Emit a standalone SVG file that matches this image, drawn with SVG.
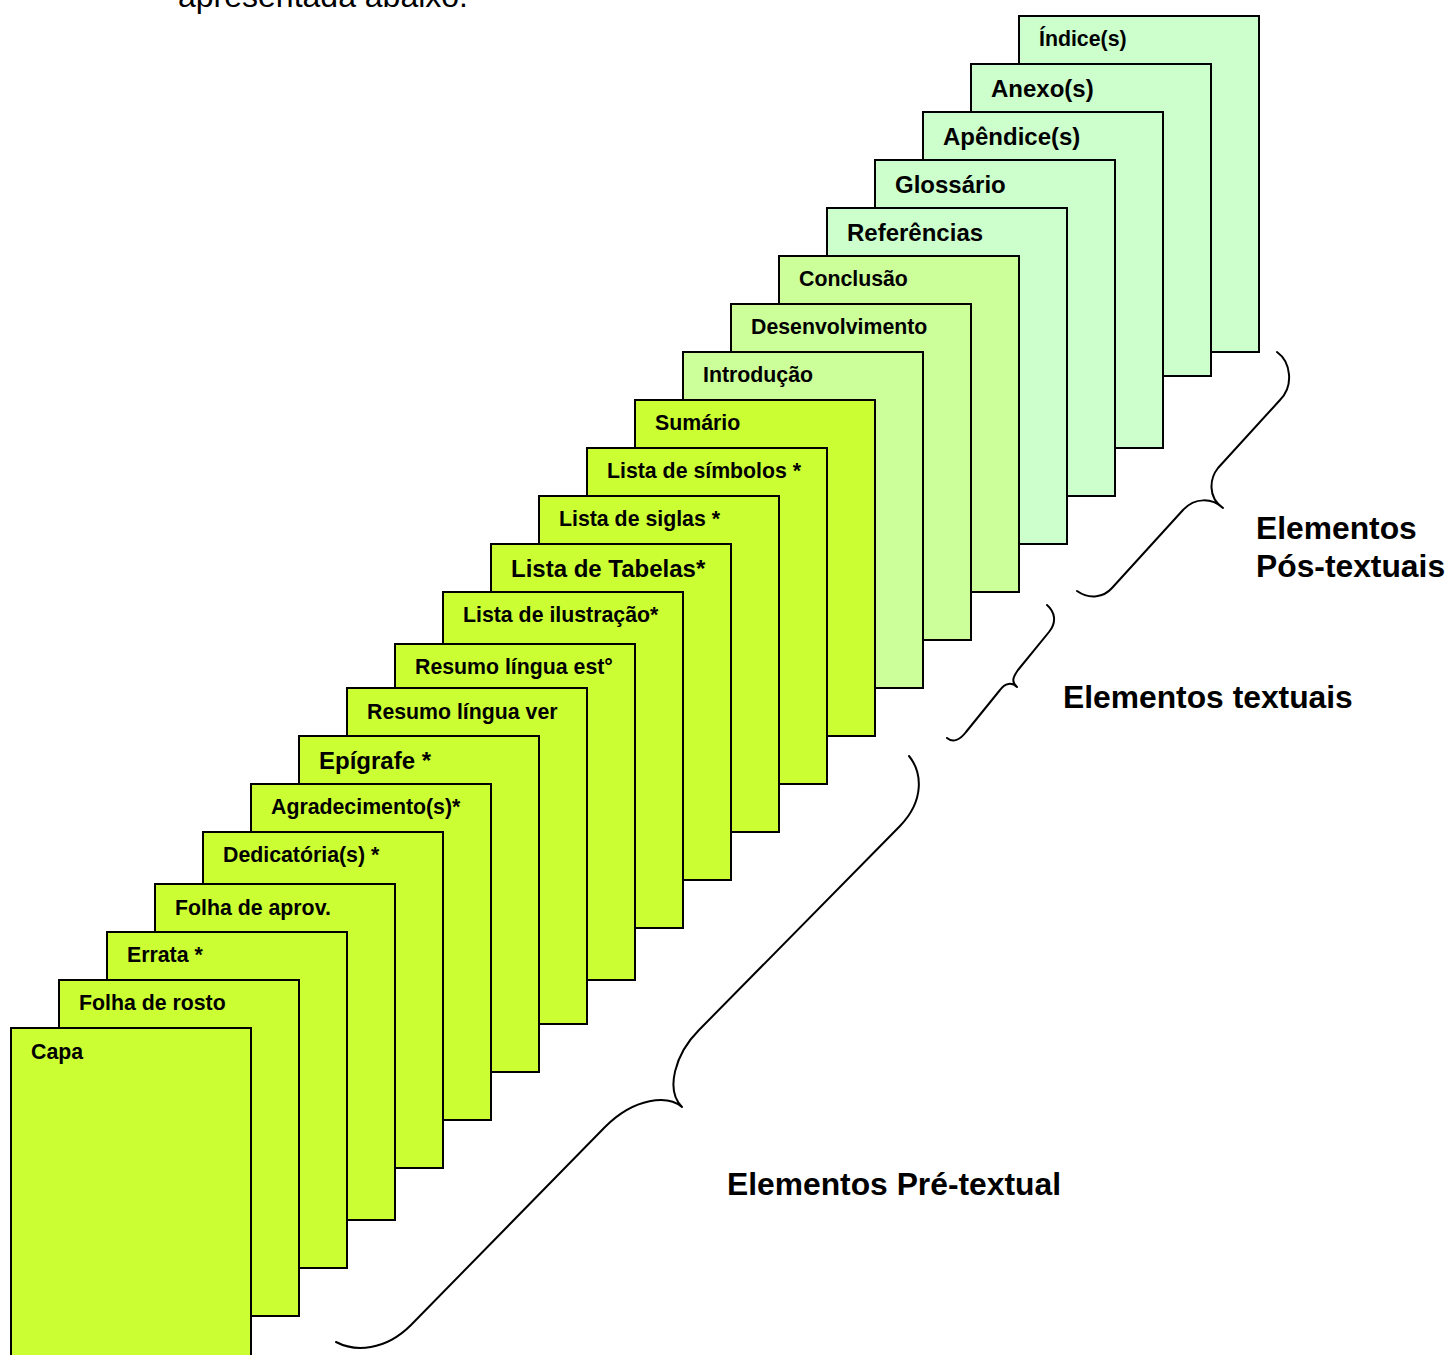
<svg xmlns="http://www.w3.org/2000/svg" width="1450" height="1355" viewBox="0 0 1450 1355">
<style>
.pg{stroke:#000;stroke-width:2}
.pre{fill:#CCFF33}
.txt{fill:#CCFF99}
.pos{fill:#CCFFCC}
.l{font-family:"Liberation Sans",Arial,sans-serif;font-weight:bold;font-size:21.3px;fill:#000}
.b{font-size:24px}
.cap{font-family:"Liberation Sans",Arial,sans-serif;font-weight:bold;font-size:31.8px;fill:#000}
.brace{fill:none;stroke:#000;stroke-width:2;stroke-linecap:round;stroke-linejoin:round}
</style>
<rect width="1450" height="1355" fill="#fff"/>
<text x="178" y="7" font-family="'Liberation Sans',Arial,sans-serif" font-size="32" fill="#000">apresentada abaixo.</text>
<g id="indice"><rect class="pg pos" x="1019" y="16" width="240" height="336"/><text class="l" x="1039" y="46">Índice(s)</text></g>
<g id="anexo"><rect class="pg pos" x="971" y="64" width="240" height="312"/><text class="l b" x="991" y="97">Anexo(s)</text></g>
<g id="apendice"><rect class="pg pos" x="923" y="112" width="240" height="336"/><text class="l b" x="943" y="145">Apêndice(s)</text></g>
<g id="glossario"><rect class="pg pos" x="875" y="160" width="240" height="336"/><text class="l b" x="895" y="193">Glossário</text></g>
<g id="referencias"><rect class="pg pos" x="827" y="208" width="240" height="336"/><text class="l b" x="847" y="241">Referências</text></g>
<g id="conclusao"><rect class="pg txt" x="779" y="256" width="240" height="336"/><text class="l" x="799" y="286">Conclusão</text></g>
<g id="desenvolvimento"><rect class="pg txt" x="731" y="304" width="240" height="336"/><text class="l" x="751" y="334">Desenvolvimento</text></g>
<g id="introducao"><rect class="pg txt" x="683" y="352" width="240" height="336"/><text class="l" x="703" y="382">Introdução</text></g>
<g id="sumario"><rect class="pg pre" x="635" y="400" width="240" height="336"/><text class="l" x="655" y="430">Sumário</text></g>
<g id="simbolos"><rect class="pg pre" x="587" y="448" width="240" height="336"/><text class="l" x="607" y="478">Lista de símbolos *</text></g>
<g id="siglas"><rect class="pg pre" x="539" y="496" width="240" height="336"/><text class="l" x="559" y="526">Lista de siglas *</text></g>
<g id="tabelas"><rect class="pg pre" x="491" y="544" width="240" height="336"/><text class="l b" x="511" y="577">Lista de Tabelas*</text></g>
<g id="ilustracao"><rect class="pg pre" x="443" y="592" width="240" height="336"/><text class="l" x="463" y="622">Lista de ilustração*</text></g>
<g id="resumo-est"><rect class="pg pre" x="395" y="644" width="240" height="336"/><text class="l" x="415" y="674">Resumo língua est°</text></g>
<g id="resumo-ver"><rect class="pg pre" x="347" y="688" width="240" height="336"/><text class="l" x="367" y="719">Resumo língua ver</text></g>
<g id="epigrafe"><rect class="pg pre" x="299" y="736" width="240" height="336"/><text class="l b" x="319" y="769">Epígrafe *</text></g>
<g id="agradecimento"><rect class="pg pre" x="251" y="784" width="240" height="336"/><text class="l" x="271" y="814">Agradecimento(s)*</text></g>
<g id="dedicatoria"><rect class="pg pre" x="203" y="832" width="240" height="336"/><text class="l" x="223" y="862">Dedicatória(s) *</text></g>
<g id="aprov"><rect class="pg pre" x="155" y="884" width="240" height="336"/><text class="l" x="175" y="915">Folha de aprov.</text></g>
<g id="errata"><rect class="pg pre" x="107" y="932" width="240" height="336"/><text class="l" x="127" y="962">Errata *</text></g>
<g id="rosto"><rect class="pg pre" x="59" y="980" width="240" height="336"/><text class="l" x="79" y="1010">Folha de rosto</text></g>
<g id="capa"><rect class="pg pre" x="11" y="1028" width="240" height="340"/><text class="l" x="31" y="1059">Capa</text></g>
<g id="connectors">
<path class="brace" d="M 1277 352 C 1291 362, 1294 386, 1280 400 L 1218 468 C 1210 478, 1207 497, 1223 508 C 1212 498, 1195 497, 1183 510 L 1112 588 C 1104 597, 1090 600, 1077 591"/>
<path class="brace" d="M 1047 605 C 1055 612, 1057 622, 1049 632 L 1018 670 C 1013 677, 1011 682, 1017 687 C 1012 682, 1005 683, 1000 690 L 966 732 C 960 740, 953 743, 947 738"/>
<path class="brace" d="M 909 756 C 922 772, 925 800, 900 826 L 699 1030 C 675 1054, 665 1090, 682 1107 C 668 1095, 635 1097, 605 1127 L 411 1325 C 385 1351, 355 1352, 336 1342"/>
</g>
<g id="labels">
<text class="cap" x="1256" y="539">Elementos</text>
<text class="cap" x="1256" y="577">Pós-textuais</text>
<text class="cap" x="1063" y="708">Elementos textuais</text>
<text class="cap" x="727" y="1195">Elementos Pré-textual</text>
</g>
</svg>
